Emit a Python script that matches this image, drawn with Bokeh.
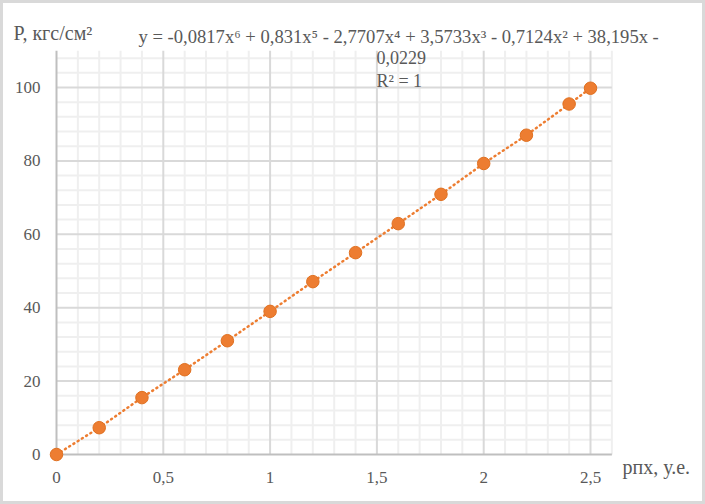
from bokeh.plotting import figure
from bokeh.models import Range1d, Label
from bokeh.embed import file_html
from bokeh.resources import INLINE
from bokeh.core.properties import value

x_vals = [0, 0.2, 0.4, 0.6, 0.8, 1.0, 1.2, 1.4, 1.6, 1.8, 2.0, 2.2, 2.4, 2.5]
p_vals = [0, 7.3, 15.5, 23.1, 31.0, 39.0, 47.1, 55.0, 62.9, 70.9, 79.3, 87.0, 95.5, 99.8]
x_ticks = [0, 0.5, 1, 1.5, 2, 2.5]
x_tick_labels = ["0", "0,5", "1", "1,5", "2", "2,5"]
y_ticks = [0, 20, 40, 60, 80, 100]
y_tick_labels = ["0", "20", "40", "60", "80", "100"]
x_minor = [round(i * 0.1, 2) for i in range(1, 27) if i % 5 != 0]
y_minor = [v for v in range(4, 110, 4) if v % 20 != 0]
X_MAX = 2.6
Y_MAX = 110

FONT = "Liberation Serif"
ORANGE = "#ed7d31"
TXT = "#595959"

# whole canvas is the frame; data origin placed at pixel (OX, OY from top)
W, H = 705, 504
OX, OY = 56, 454
SX = 213.6   # px per x unit
SY = 3.67    # px per y unit

p = figure(width=W, height=H, output_backend="svg", toolbar_location=None,
           x_range=Range1d(-OX / SX, (W - OX) / SX), y_range=Range1d(-(H - OY) / SY, OY / SY),
           min_border=0)
p.axis.visible = False
p.xgrid.visible = False
p.ygrid.visible = False
p.outline_line_color = "#d9d9d9"
p.outline_line_width = 5

# gridlines limited to the data area
p.segment(x0=x_minor, y0=[0] * len(x_minor), x1=x_minor, y1=[Y_MAX] * len(x_minor),
          line_color="#efefef", line_width=2)
p.segment(x0=[0] * len(y_minor), y0=y_minor, x1=[X_MAX] * len(y_minor), y1=y_minor,
          line_color="#efefef", line_width=2)
xm = x_ticks[1:]
ym = y_ticks[1:]
p.segment(x0=xm, y0=[0] * len(xm), x1=xm, y1=[Y_MAX] * len(xm), line_color="#d9d9d9", line_width=2)
p.segment(x0=[0] * len(ym), y0=ym, x1=[X_MAX] * len(ym), y1=ym, line_color="#d9d9d9", line_width=2)
# axis lines
p.segment(x0=[0, 0], y0=[0, 0], x1=[X_MAX, 0], y1=[0, Y_MAX], line_color="#bfbfbf", line_width=2)

# tick labels
p.text(x=x_ticks, y=[0] * len(x_ticks), text=x_tick_labels, y_offset=23,
       text_align="center", text_baseline="middle",
       text_font=value(FONT), text_font_size="17px", text_color=TXT)
p.text(x=[0] * len(y_ticks), y=y_ticks, text=y_tick_labels, x_offset=-16,
       text_align="right", text_baseline="middle",
       text_font=value(FONT), text_font_size="17px", text_color=TXT)

p.line(x_vals, p_vals, line_color=ORANGE, line_width=2.5, line_dash="1 4", line_cap="round")
p.scatter(x_vals, p_vals, size=12.5, fill_color=ORANGE, line_color="#e07020", line_width=1)


def lab(text, cx, cy, size, align="left"):
    p.add_layout(Label(x=cx, y=H - cy, x_units="screen", y_units="screen", text=text,
                       text_align=align, text_baseline="alphabetic",
                       text_font=FONT, text_font_size=size, text_color=TXT))


lab("P, кгс/см²", 13, 32, "20px")
lab("y = -0,0817x⁶ + 0,831x⁵ - 2,7707x⁴ + 3,5733x³ - 0,7124x² + 38,195x -", 138, 36, "18.6px")
lab("0,0229", 376, 57, "18px")
lab("R² = 1", 376, 80, "18px")
lab("pпх, у.е.", 622, 466, "20px")

open("out.html", "w").write(file_html(p, INLINE))
